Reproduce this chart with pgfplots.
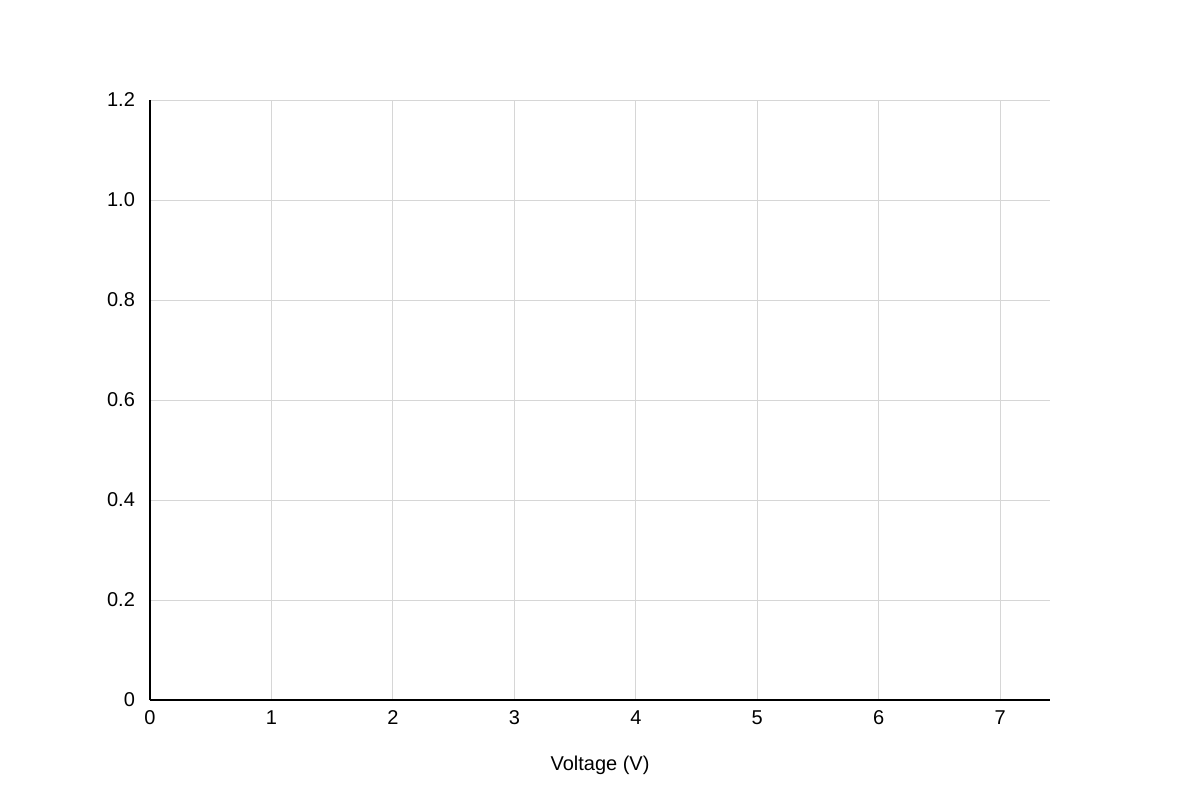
\documentclass[border=0pt]{standalone}
\usepackage{fontspec}
\setmainfont{Liberation Sans}
\usepackage{pgfplots}
\pgfplotsset{compat=1.18}

\definecolor{gridgray}{HTML}{D6D6D6}

\begin{document}
\fontsize{10}{12}\selectfont
\begin{tikzpicture}
    \begin{axis}[
        anchor=south west,
        at={(0,0)},
        scale only axis,
        width=450pt,
        height=300pt,
        xmin=0, xmax=7.41,   % axis runs a little past 7
        ymin=0, ymax=1.2,
        axis x line=bottom,
        axis y line=left,
        axis line style={-, black, line width=1pt},
        xtick={0,1,2,3,4,5,6,7},
        ytick={0,0.2,0.4,0.6,0.8,1.0,1.2},
        yticklabels={0,0.2,0.4,0.6,0.8,1.0,1.2},
        major tick length=0pt,
        grid=major,
        major grid style={gridgray, line width=0.5pt},
        xticklabel style={anchor=center, yshift=-9pt},
        yticklabel style={anchor=east, xshift=-4pt},
        xlabel={Voltage (V)},
        xlabel style={at={(axis description cs:0.5,0)}, anchor=center, yshift=-32.5pt},
        /pgf/number format/assume math mode=true,
    ]
    \end{axis}
    % page frame: 1200x800 px at 0.5pt per px
    \path (-75pt,-50pt) rectangle (525pt,350pt);
\end{tikzpicture}
\end{document}
